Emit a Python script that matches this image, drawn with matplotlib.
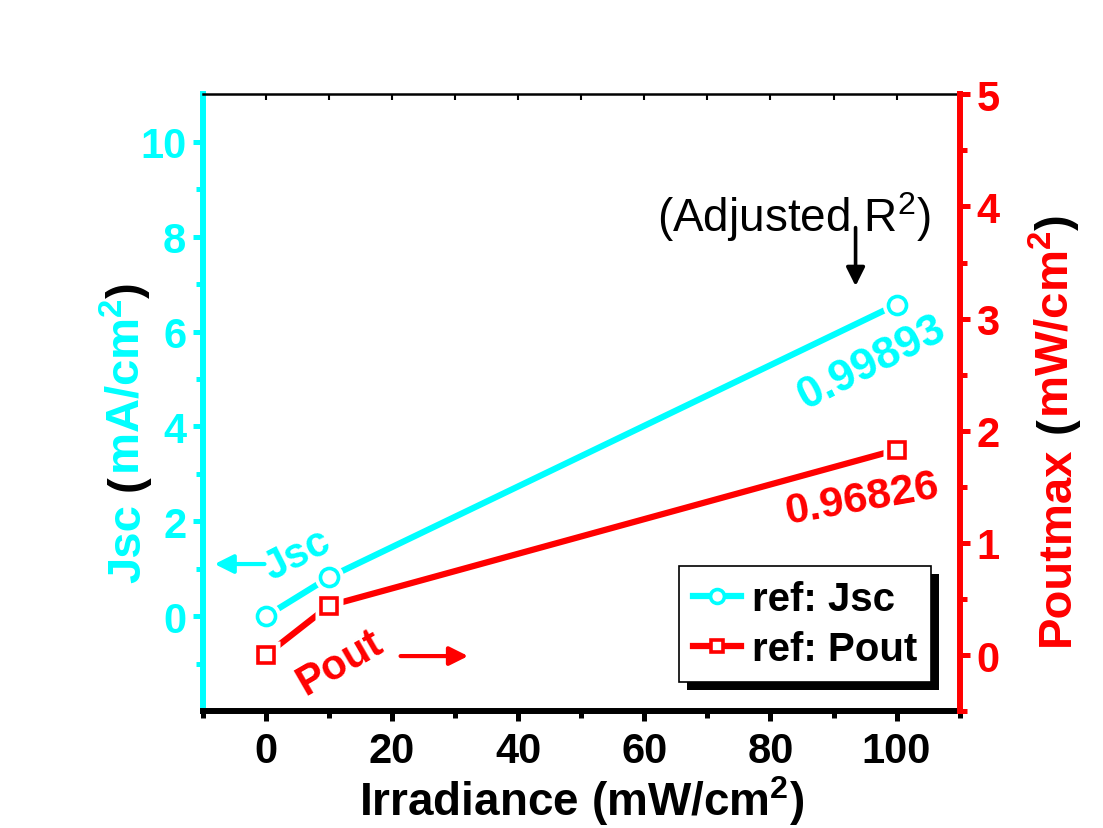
import matplotlib
matplotlib.use("Agg")
import matplotlib.pyplot as plt
from matplotlib.patches import Rectangle

plt.rcParams["font.family"] = ["Liberation Sans", "DejaVu Sans"]
plt.rcParams["font.weight"] = "bold"
plt.rcParams["mathtext.fontset"] = "custom"
plt.rcParams["mathtext.rm"] = "Liberation Sans:normal"
plt.rcParams["mathtext.bf"] = "Liberation Sans:bold"
plt.rcParams["mathtext.it"] = "Liberation Sans:italic"

CYAN = "#00FFFF"
RED = "#FF0000"

# measured data
irradiance = [0, 10, 100]
jsc = [0.0, 0.82, 6.57]
pout = [0.0, 0.44, 1.83]

r2_jsc = "0.99893"
r2_pout = "0.96826"

fig = plt.figure(figsize=(11.03, 8.29), dpi=100)
ax = fig.add_axes([0.184, 0.141, 0.686, 0.744])
ax2 = ax.twinx()

ax.plot(irradiance, jsc, color=CYAN, lw=4.5, label="_nolegend_", zorder=2)
ax2.plot(irradiance, pout, color=RED, lw=4.5, label="_nolegend_", zorder=2)
# white halo so the line stops short of each marker
ax.plot(irradiance, jsc, ls="none", marker="o", ms=21, mfc="white", mec="none", zorder=3)
ax2.plot(irradiance, pout, ls="none", marker="s", ms=20, mfc="white", mec="none", zorder=3)
ax.plot(irradiance, jsc, color=CYAN, lw=4.5, ls="none", marker="o", ms=13,
        mfc="white", mec=CYAN, mew=2.6, zorder=4)
ax2.plot(irradiance, pout, color=RED, lw=4.5, ls="none", marker="s", ms=12,
         mfc="white", mec=RED, mew=2.6, zorder=4)

ax.set_xlim(-10, 110)
ax.set_ylim(-2, 11)
ax2.set_ylim(-0.5, 5)
ax.set_xticks(range(0, 101, 20))
ax.set_xticks(range(-10, 111, 10), minor=True)
ax.set_yticks(range(0, 11, 2))
ax.set_yticks(range(-1, 11, 2), minor=True)
ax2.set_yticks(range(0, 6))
ax2.set_yticks([x + 0.5 for x in range(-1, 5)], minor=True)

# spines
for s in ("left", "right", "top", "bottom"):
    ax2.spines[s].set_visible(False)
ax.spines["right"].set_visible(False)
ax.spines["left"].set_color(CYAN)
ax.spines["left"].set_linewidth(4.3)
ax.spines["bottom"].set_linewidth(4.3)
ax.spines["top"].set_linewidth(1.8)
ax2.spines["right"].set_visible(True)
ax2.spines["right"].set_color(RED)
ax2.spines["right"].set_linewidth(4.3)

ax.tick_params(axis="x", which="major", direction="out", length=7, width=3.6,
               labelsize=30, pad=7, colors="black", top=True)
ax.tick_params(axis="x", which="minor", direction="out", length=5, width=3.6, top=True)
ax.tick_params(axis="y", which="major", direction="out", length=7, width=3.6,
               labelsize=30, pad=5, colors=CYAN)
ax.tick_params(axis="y", which="minor", direction="out", length=5, width=3.6,
               colors=CYAN)
ax2.tick_params(axis="y", which="major", direction="out", length=7, width=3.6,
                labelsize=30, pad=5, colors=RED)
ax2.tick_params(axis="y", which="minor", direction="out", length=5, width=3.6,
                colors=RED)
# small inward stubs on the top frame
for t in ax.xaxis.get_ticklines()[1::2] + ax.xaxis.get_ticklines(minor=True)[1::2]:
    t.set_marker(3)
    t.set_markersize(4)
    t.set_markeredgewidth(1.5)

ax.set_xlabel(r"Irradiance (mW/cm$^\mathbf{2}$)", fontsize=33, fontweight="bold",
              labelpad=2)

fig.canvas.draw()
renderer = fig.canvas.get_renderer()


def text_width(s, size):
    t = fig.text(0, 0, s, fontsize=size, fontweight="bold")
    w = t.get_window_extent(renderer).width
    t.remove()
    return w


def vertical_label(x, y, pieces, size):
    """Stack coloured pieces bottom-to-top along a rotated baseline."""
    space = text_width("a a", size) - text_width("aa", size)
    widths = [text_width(s.strip(), size) + (space if s.endswith(" ") else 0)
              for s, _ in pieces]
    px, py = fig.transFigure.transform((x, y))
    y0 = py - sum(widths) / 2
    for (s, c), w in zip(pieces, widths):
        fig.text(px, y0, s.strip(), color=c, fontsize=size, fontweight="bold",
                 rotation=90, rotation_mode="anchor", ha="left", va="baseline",
                 transform=None)
        y0 += w


# baseline positions of the two axis titles
vertical_label(0.127, 0.478, [("Jsc ", CYAN), ("(", "black"),
                              (r"mA/cm$^\mathbf{2}$", CYAN), (")", "black")], 34)
vertical_label(0.969, 0.481, [("Poutmax ", RED), ("(", "black"),
                              (r"mW/cm$^\mathbf{2}$", RED), (")", "black")], 34)

# fit quality notes
ax.text(83.7, 8.43, r"(Adjusted R$^2$)", fontsize=33, fontweight="normal",
        ha="center", va="center")
ax.annotate("", xy=(93.5, 6.90), xytext=(93.5, 8.25),
            arrowprops=dict(arrowstyle="-|>", lw=2.6, color="black", mutation_scale=28))
ax.text(96.1, 5.35, r2_jsc, color=CYAN, fontsize=32, rotation=27,
        ha="center", va="center")
ax.text(94.5, 2.47, r2_pout, color=RED, fontsize=31, rotation=10,
        ha="center", va="center")

# axis pointers
ax.text(5.0, 1.30, "Jsc", color=CYAN, fontsize=30, rotation=27,
        ha="center", va="center")
ax.annotate("", xy=(-8.6, 1.10), xytext=(0.2, 1.10),
            arrowprops=dict(arrowstyle="-|>", lw=3, color=CYAN, mutation_scale=28))
ax.text(11.7, -0.97, "Pout", color=RED, fontsize=30, rotation=30,
        ha="center", va="center")
ax.annotate("", xy=(32.5, -0.84), xytext=(20.9, -0.84),
            arrowprops=dict(arrowstyle="-|>", lw=3, color=RED, mutation_scale=28))

# legend keys: line + hollow marker
key_jsc = plt.Line2D([], [], color=CYAN, lw=4.5, marker="o", ms=10,
                     mfc="white", mec=CYAN, mew=2.6)
key_pout = plt.Line2D([], [], color=RED, lw=4.5, marker="s", ms=9,
                      mfc="white", mec=RED, mew=2.6)
leg = ax2.legend([key_jsc, key_pout], ["ref: Jsc", "ref: Pout"], loc="lower right",
                 bbox_to_anchor=(0.962, 0.047), borderaxespad=0, fontsize=29,
                 frameon=True, fancybox=False, handlelength=1.2, handletextpad=0.25,
                 borderpad=0.35, labelspacing=0.3, framealpha=1)
leg.get_frame().set_edgecolor("black")
leg.get_frame().set_linewidth(1.2)
leg.set_zorder(5)

fig.canvas.draw()
bb = leg.get_window_extent()
shadow = Rectangle((bb.x0 + 8, bb.y0 - 8), bb.width, bb.height,
                   transform=None, facecolor="black", edgecolor="none", zorder=4)
ax2.add_artist(shadow)

fig.savefig("out.png", dpi=100)
